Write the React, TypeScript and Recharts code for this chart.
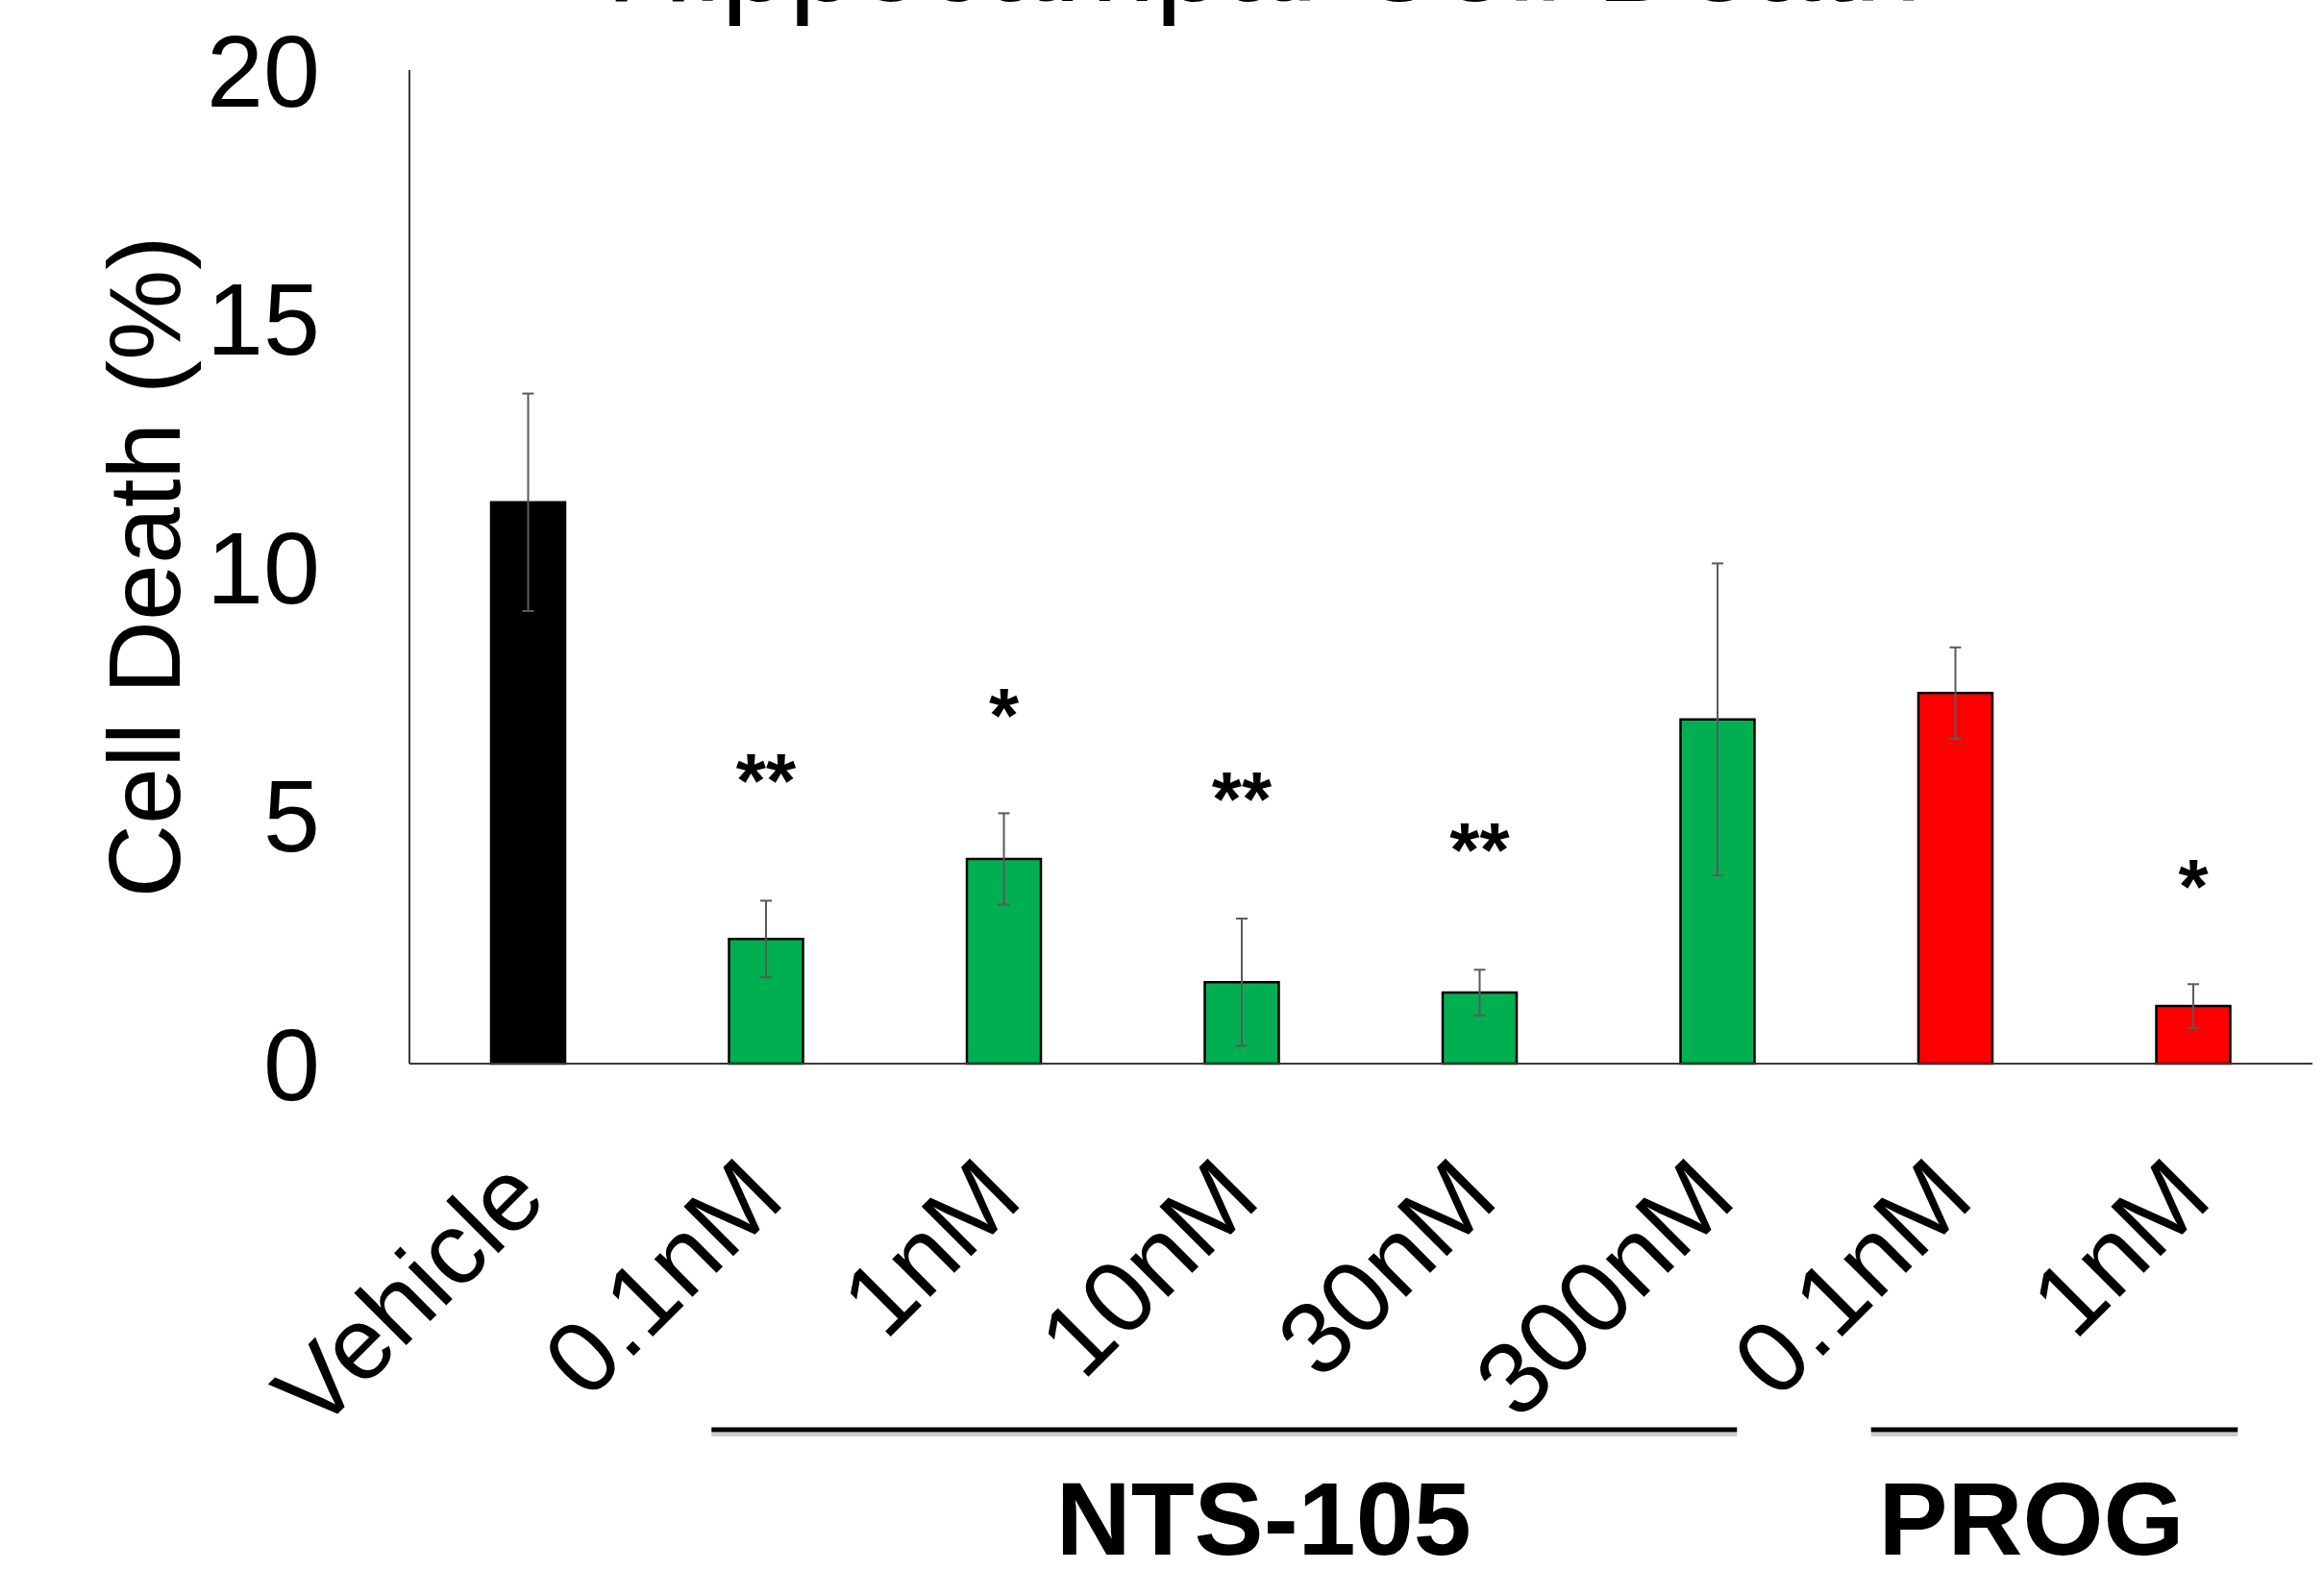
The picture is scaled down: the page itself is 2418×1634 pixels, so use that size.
import { BarChart, Bar, XAxis, YAxis, ErrorBar, Cell, LabelList, ReferenceLine, Label, Customized } from 'recharts';

const FONT = '"Liberation Sans", Arial, Helvetica, sans-serif';

const categories = ['Vehicle', '0.1nM', '1nM', '10nM', '30nM', '300nM', '0.1nM', '1nM'];
const groups = ['Vehicle', 'NTS-105', 'NTS-105', 'NTS-105', 'NTS-105', 'NTS-105', 'PROG', 'PROG'];
const cellDeath = [11.3, 2.51, 4.12, 1.64, 1.43, 6.93, 7.46, 1.16];
const sem = [2.19, 0.77, 0.92, 1.28, 0.46, 3.14, 0.92, 0.44];
const significance = ['', '**', '*', '**', '**', '', '', '*'];
const yTicks = [0, 5, 10, 15, 20];
const bracketGroups = ['NTS-105', 'PROG'];

const groupColor: Record<string, string> = {
  Vehicle: '#000000',
  'NTS-105': '#00B050',
  PROG: '#FF0000',
};

// how far each bracket reaches past its outer bars, and label nudge (px)
const bracketLook: Record<string, { padL: number; padR: number; dx: number }> = {
  'NTS-105': { padL: 57, padR: 20, dx: 41 },
  PROG: { padL: 88, padR: 46, dx: -24 },
};

const data = categories.map((c, i) => ({
  key: `${groups[i]} ${c}`,
  label: c,
  group: groups[i],
  value: cellDeath[i],
  err: sem[i],
  sig: significance[i],
}));

const XTick = ({ x, y, payload }: any) => {
  const row = data.find((d) => d.key === payload.value);
  return (
    <text
      x={0}
      y={0}
      transform={`translate(${x + 22},${y + 144}) rotate(-45)`}
      textAnchor="end"
      fontSize={106}
      fontFamily={FONT}
      fill="#000"
    >
      {row ? row.label : ''}
    </text>
  );
};

const SigLabel = (props: any) => {
  const { value, index } = props;
  if (!value) return null;
  const vb = props.viewBox ?? props;
  const { x, y, width, height } = vb;
  const row = data[index];
  const pxPerUnit = height / row.value;
  const errTop = y - row.err * pxPerUnit;
  const gap = value.length > 1 ? 134 : 111;
  return (
    <text
      x={x + width / 2}
      y={errTop - gap + 37}
      textAnchor="middle"
      fontSize={80}
      fontWeight="bold"
      fontFamily={FONT}
      fill="#000"
    >
      {value}
    </text>
  );
};

const Bracket = (name: string) => (p: any) => {
  const look = bracketLook[name];
  const x1 = p.x1 - look.padL;
  const x2 = p.x2 + look.padR;
  const y = p.y1 + 381;
  return (
    <g>
      <line x1={x1} x2={x2} y1={y + 5} y2={y + 5} stroke="#9a9a9a" strokeWidth={4} opacity={0.5} />
      <line x1={x1} x2={x2} y1={y} y2={y} stroke="#000" strokeWidth={5} />
      <text
        x={(x1 + x2) / 2 + look.dx}
        y={p.y1 + 511}
        textAnchor="middle"
        fontSize={108}
        fontWeight="bold"
        fontFamily={FONT}
        fill="#000"
      >
        {name}
      </text>
    </g>
  );
};

const Title = () => (
  <text x={1315} y={1} textAnchor="middle" fontSize={127} fontFamily={FONT} fill="#000">
    Hippocampal Cell Death
  </text>
);

export default function App() {
  return (
    <div
      style={{
        position: 'absolute',
        left: 0,
        top: 0,
        width: 2418,
        height: 1634,
        background: '#fff',
        fontFamily: FONT,
      }}
    >
      <BarChart
        width={2418}
        height={1634}
        data={data}
        margin={{ top: 73, right: 12, left: 0, bottom: 0 }}
      >
        <XAxis
          dataKey="key"
          type="category"
          interval={0}
          height={527}
          tickLine={false}
          tickSize={0}
          tickMargin={0}
          axisLine={{ stroke: '#3a3a3a', strokeWidth: 2 }}
          tick={<XTick />}
        />
        <YAxis
          width={426}
          domain={[0, 20]}
          ticks={yTicks}
          tickLine={false}
          tickSize={0}
          tickMargin={93}
          axisLine={{ stroke: '#3a3a3a', strokeWidth: 2 }}
          tick={{ fontSize: 106, fill: '#000', fontFamily: FONT }}
        >
          <Label
            content={(props: any) => {
              const vb = props.viewBox;
              const cy = vb.y + vb.height / 2;
              return (
                <text
                  x={187}
                  y={cy}
                  transform={`rotate(-90, 187, ${cy})`}
                  textAnchor="middle"
                  fontSize={106}
                  fontFamily={FONT}
                  fill="#000"
                >
                  Cell Death (%)
                </text>
              );
            }}
          />
        </YAxis>
        <Bar dataKey="value" barSize={77} stroke="#000" strokeWidth={2.5} isAnimationActive={false}>
          {data.map((d) => (
            <Cell key={d.key} fill={groupColor[d.group]} />
          ))}
          <ErrorBar dataKey="err" width={6} stroke="#5a5a5a" strokeWidth={2} direction="y" />
          <LabelList dataKey="sig" content={<SigLabel />} />
        </Bar>
        {bracketGroups.map((g) => {
          const members = data.filter((d) => d.group === g);
          return (
            <ReferenceLine
              key={g}
              ifOverflow="visible"
              segment={[
                { x: members[0].key, y: 0 },
                { x: members[members.length - 1].key, y: 0 },
              ]}
              shape={Bracket(g)}
            />
          );
        })}
        <Customized component={<Title />} />
      </BarChart>
    </div>
  );
}
